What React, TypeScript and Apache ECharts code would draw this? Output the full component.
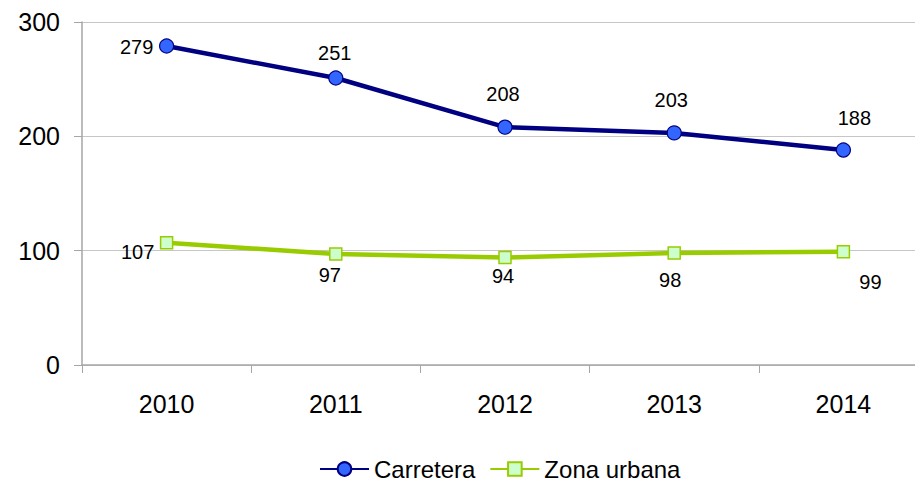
import React, { useEffect, useRef } from "react";
import * as echarts from "echarts";

const categories = ["2010", "2011", "2012", "2013", "2014"];
const carretera = [279, 251, 208, 203, 188];
const zonaUrbana = [107, 97, 94, 98, 99];
const yTicks = { min: 0, max: 300, interval: 100 };

// label placement (offset of each value label from its point), styling only
const carreteraLabelOffset = [[-30, 1], [-1, -25], [-2, -33], [-3, -33], [11, -32]];
const zonaLabelOffset = [[-29, 9], [-6, 21], [-2, 18], [-4, 27], [27, 30]];

const FONT = "'Liberation Sans', Arial, Helvetica, sans-serif";

export default function App() {
  const ref = useRef<HTMLDivElement>(null);
  useEffect(() => {
    document.body.style.margin = "0";
    if (!ref.current) return;
    const chart = echarts.init(ref.current, undefined, { renderer: "svg" });
    chart.setOption({
      animation: false,
      textStyle: { fontFamily: FONT },
      grid: { left: 82, top: 22, width: 846, height: 343, containLabel: false, outerBoundsMode: "none" },
      legend: {
        left: 319,
        top: 457,
        padding: 0,
        itemWidth: 49,
        itemHeight: 17,
        itemGap: 14,
        textStyle: { fontSize: 24, lineHeight: 22, color: "#000", fontFamily: FONT },
        data: ["Carretera", "Zona urbana"],
      },
      xAxis: {
        type: "category",
        data: categories,
        boundaryGap: true,
        axisLine: { show: true, lineStyle: { color: "#a6a6a6", width: 1.5 } },
        axisTick: { show: true, length: 8, lineStyle: { color: "#a6a6a6", width: 1 } },
        axisLabel: { fontSize: 25, color: "#000", margin: 26, fontFamily: FONT },
        splitLine: { show: false },
      },
      yAxis: {
        type: "value",
        min: yTicks.min,
        max: yTicks.max,
        interval: yTicks.interval,
        axisLine: { show: true, lineStyle: { color: "#a6a6a6", width: 1.5 } },
        axisTick: { show: true, length: 8, lineStyle: { color: "#a6a6a6", width: 1 } },
        axisLabel: { fontSize: 25, color: "#000", margin: 22, fontFamily: FONT },
        splitLine: { show: true, lineStyle: { color: "#c6c6c6", width: 1.2 } },
      },
      series: [
        {
          name: "Carretera",
          type: "line",
          data: carretera.map((v, i) => ({ value: v, label: { offset: carreteraLabelOffset[i] } })),
          symbol: "circle",
          symbolSize: 14,
          lineStyle: { color: "#000080", width: 4.5 },
          itemStyle: { color: "#3366ff", borderColor: "#000080", borderWidth: 1.2 },
          label: { show: true, position: "inside", fontSize: 20, color: "#000", fontFamily: FONT },
          emphasis: { disabled: true },
          z: 3,
        },
        {
          name: "Zona urbana",
          type: "line",
          data: zonaUrbana.map((v, i) => ({ value: v, label: { offset: zonaLabelOffset[i] } })),
          symbol: "rect",
          symbolSize: 12,
          lineStyle: { color: "#99cc00", width: 4.5 },
          itemStyle: { color: "#ccffcc", borderColor: "#99cc00", borderWidth: 1.5 },
          label: { show: true, position: "inside", fontSize: 20, color: "#000", fontFamily: FONT },
          emphasis: { disabled: true },
          z: 2,
        },
      ],
    });
    return () => chart.dispose();
  }, []);
  return <div ref={ref} style={{ width: 915, height: 482 }} />;
}
